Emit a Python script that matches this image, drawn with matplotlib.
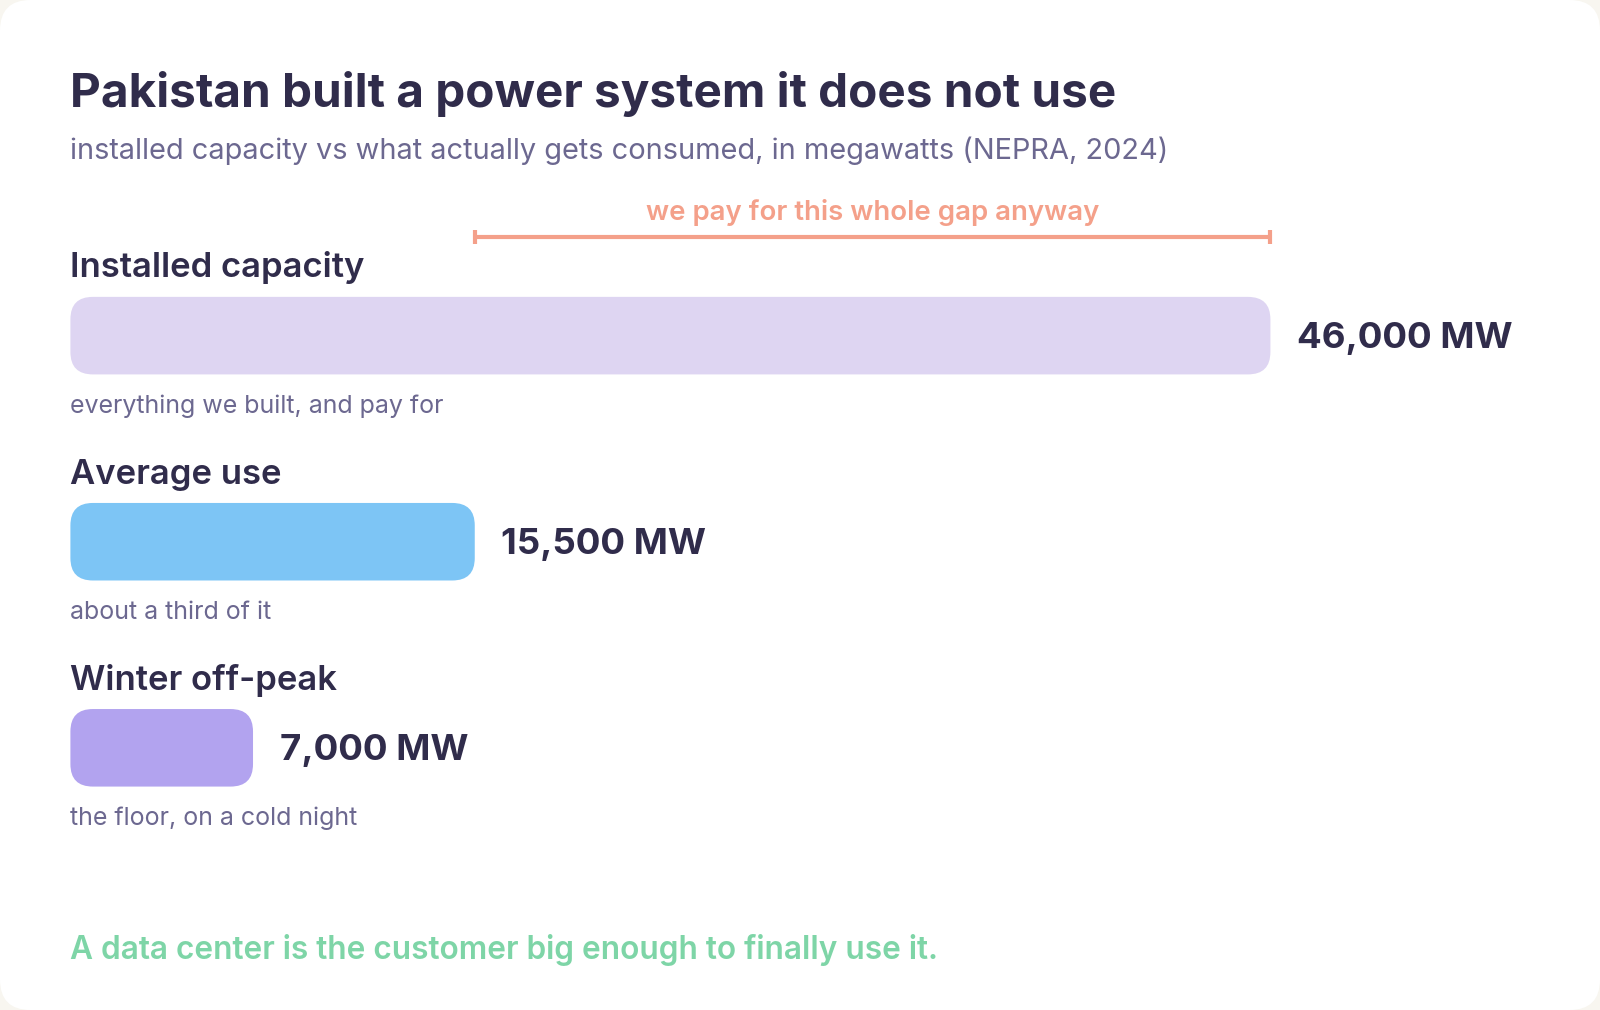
import matplotlib
matplotlib.use("Agg")
import matplotlib.pyplot as plt
from matplotlib.patches import FancyBboxPatch

plt.rcParams['font.family'] = ['Inter', 'DejaVu Sans']

# data
categories = ["Installed capacity", "Average use", "Winter off-peak"]
values_mw = [46000, 15500, 7000]
value_labels = ["46,000 MW", "15,500 MW", "7,000 MW"]
notes = ["everything we built, and pay for", "about a third of it", "the floor, on a cold night"]
bar_colors = ["#ded5f2", "#7dc5f5", "#b2a3ef"]
gap_from = 15500
gap_to = 46000

title = "Pakistan built a power system it does not use"
subtitle = "installed capacity vs what actually gets consumed, in megawatts (NEPRA, 2024)"
gap_note = "we pay for this whole gap anyway"
footer = "A data center is the customer big enough to finally use it."

dark = "#302c4b"
muted = "#6c6890"
salmon = "#f4a08a"
green = "#7ed5a7"

# layout in reference pixels (1568 x 990 canvas)
W, H = 1568, 990
x0_px = 69
px_per_mw = (1245 - x0_px) / 46000


def mw(px):
    return (px - x0_px) / px_per_mw


fig = plt.figure(figsize=(16, 10.1), dpi=100)
fig.patch.set_facecolor("#f8f6f0")
ax = fig.add_axes([0, 0, 1, 1])
ax.set_xlim(mw(0), mw(W))
ax.set_ylim(H, 0)
ax.axis("off")

# white card
card = FancyBboxPatch((mw(0), 0), mw(W) - mw(0), H,
                      boxstyle="round,pad=0,rounding_size=%f" % (30 / px_per_mw),
                      mutation_aspect=px_per_mw, fc="white", ec="none", zorder=0)
ax.add_patch(card)

pt = 0.7347  # ref px -> points
ax.text(0, 105, title, fontsize=46.7 * pt, fontweight="bold", color=dark, va="baseline")
ax.text(0, 156, subtitle, fontsize=28.4 * pt, color=muted, va="baseline")

# gap bracket
yb = 232
ax.plot([gap_from, gap_to], [yb, yb], color=salmon, lw=3, solid_capstyle="butt")
for xv in (gap_from, gap_to):
    ax.plot([xv, xv], [yb - 7, yb + 7], color=salmon, lw=3, solid_capstyle="butt")
ax.text((gap_from + gap_to) / 2, 216, gap_note, fontsize=27 * pt, fontweight="semibold",
        color=salmon, ha="center", va="baseline")

row_step = 202
for i, (cat, v, lab, note, c) in enumerate(zip(categories, values_mw, value_labels, notes, bar_colors)):
    top = 291 + i * row_step
    h = 76
    ax.text(0, 272 + i * row_step, cat, fontsize=34 * pt, fontweight="semibold",
            color=dark, va="baseline")
    bar = FancyBboxPatch((0, top), v, h,
                         boxstyle="round,pad=0,rounding_size=%f" % (22 / px_per_mw),
                         mutation_aspect=px_per_mw, fc=c, ec="none", zorder=2)
    ax.add_patch(bar)
    ax.text(v + 26 / px_per_mw, top + h / 2 - 1, lab, fontsize=36 * pt, fontweight="bold",
            color=dark, va="center_baseline")
    ax.text(0, 405 + i * row_step, note, fontsize=24.5 * pt, color=muted, va="baseline")

ax.text(0, 940, footer, fontsize=31 * pt, fontweight="semibold", color=green, va="baseline")

fig.savefig("out.png", dpi=100, facecolor=fig.get_facecolor())
